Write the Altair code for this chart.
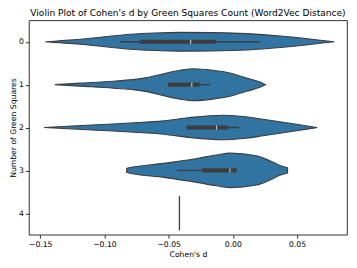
import altair as alt
import pandas as pd

# Violin outlines: position along Cohen's d and half-width (category units)
v0_x = [-0.146, -0.135, -0.119, -0.100, -0.080, -0.061, -0.041, -0.016, 0.011, 0.037, 0.055, 0.068, 0.079]
v0_w = [0.0, 0.023, 0.058, 0.116, 0.174, 0.205, 0.219, 0.214, 0.191, 0.135, 0.081, 0.035, 0.0]

v1_x = [-0.1385, -0.119, -0.093, -0.075, -0.067, -0.054, -0.041, -0.031, -0.0156, -0.0023, 0.0106, 0.021, 0.0254]
v1_w = [0.0, 0.035, 0.081, 0.128, 0.163, 0.256, 0.337, 0.372, 0.337, 0.272, 0.156, 0.063, 0.0]

v2_x = [-0.147, -0.106, -0.080, -0.054, -0.0335, -0.0075, 0.008, 0.0236, 0.0496, 0.0656]
v2_w = [0.0, 0.063, 0.105, 0.156, 0.233, 0.286, 0.256, 0.193, 0.077, 0.0]

v3_x = [-0.0827, -0.080, -0.054, -0.028, -0.0127, -0.0023, 0.0184, 0.0288, 0.0366, 0.0426]
v3_w = [0.047, 0.065, 0.163, 0.279, 0.360, 0.402, 0.342, 0.225, 0.115, 0.06]

profiles = {0: (v0_x, v0_w), 1: (v1_x, v1_w), 2: (v2_x, v2_w), 3: (v3_x, v3_w)}

# Inner box stats per category
categories = [0, 1, 2, 3]
whisk_lo = [-0.0879, -0.0505, -0.0360, -0.0434]
whisk_hi = [0.0210, -0.0179, 0.0047, 0.0029]
q1 = [-0.0724, -0.0505, -0.0360, -0.0239]
q3 = [-0.0132, -0.0257, -0.0039, 0.0029]
medians = [-0.0329, -0.0320, -0.0127, -0.0023]

# Single observation in category 4
single_cat = [4]
single_val = [-0.0416]

rows = []
for c, (xs, ws) in profiles.items():
    for x, w in zip(xs, ws):
        rows.append({"cat": c, "d": x, "lo": c - w, "hi": c + w})
vdf = pd.DataFrame(rows)

bdf = pd.DataFrame({"cat": categories, "wl": whisk_lo, "wh": whisk_hi,
                    "q1": q1, "q3": q3, "med": medians})
sdf = pd.DataFrame({"cat": single_cat, "d": single_val})
sdf["lo"] = sdf["cat"] - 0.4
sdf["hi"] = sdf["cat"] + 0.4

FILL = "#3274a1"
DARK = "#3d3d3d"

xscale = alt.Scale(domain=[-0.1588, 0.0889], nice=False, zero=False)
yscale = alt.Scale(domain=[-0.5, 4.5], reverse=True, nice=False, zero=False)

xaxis = alt.Axis(title="Cohen's d", values=[-0.15, -0.10, -0.05, 0.0, 0.05], format=".2f",
                 grid=False, tickSize=3.5, labelPadding=2, titlePadding=3)
yaxis = alt.Axis(title="Number of Green Squares", values=[0, 1, 2, 3, 4], format="d",
                 grid=False, tickSize=3.5, labelPadding=2, titlePadding=1)

violins = alt.Chart(vdf).mark_area(
    fill=FILL, stroke=DARK, strokeWidth=1.1, interpolate="monotone", orient="vertical"
).encode(
    x=alt.X("d:Q", scale=xscale, axis=xaxis),
    y=alt.Y("lo:Q", scale=yscale, axis=yaxis, stack=None),
    y2="hi:Q",
    detail="cat:N",
)

whiskers = alt.Chart(bdf).mark_rule(color=DARK, strokeWidth=1.3).encode(
    x="wl:Q", x2="wh:Q", y="cat:Q"
)
boxes = alt.Chart(bdf).mark_rule(color=DARK, strokeWidth=4.2).encode(
    x="q1:Q", x2="q3:Q", y="cat:Q"
)
meds = alt.Chart(bdf).mark_tick(color="white", orient="vertical", size=4, thickness=1.2).encode(
    x="med:Q", y="cat:Q"
)
single = alt.Chart(sdf).mark_rule(color=DARK, strokeWidth=1.3).encode(
    x="d:Q", y="lo:Q", y2="hi:Q"
)

chart = alt.layer(violins, whiskers, boxes, meds, single).properties(
    width=319, height=215,
    title=alt.TitleParams("Violin Plot of Cohen's d by Green Squares Count (Word2Vec Distance)",
                          fontSize=9.1, fontWeight="normal", font="DejaVu Sans", color="black",
                          offset=2),
    autosize=alt.AutoSizeParams(type="none"),
    padding={"left": 21, "top": 12, "right": 2, "bottom": 25},
).configure_view(
    stroke="black", strokeWidth=0.8
).configure_axis(
    labelFont="DejaVu Sans", titleFont="DejaVu Sans", labelFontSize=7.7, titleFontSize=7.7,
    labelColor="black", titleColor="black", titleFontWeight="normal",
    domain=False, tickColor="black", tickWidth=0.8
)

chart.save("out.html", embed_options={"renderer": "svg", "actions": False})
